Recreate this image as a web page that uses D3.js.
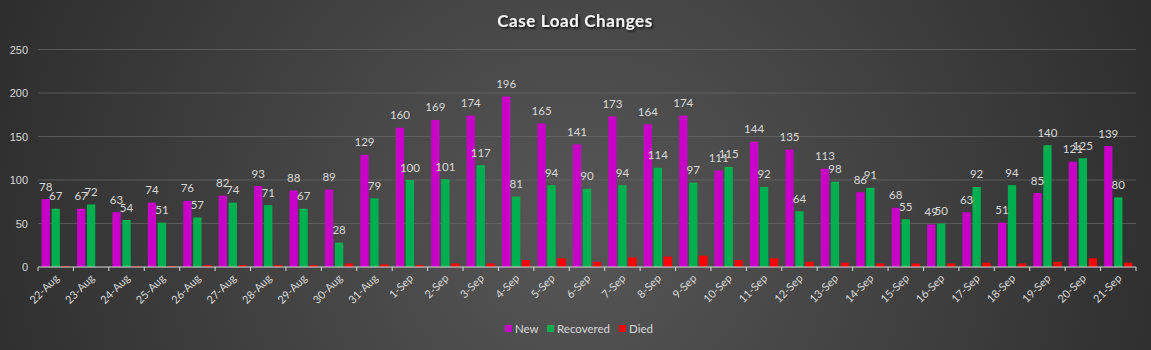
<!DOCTYPE html>
<meta charset="utf-8" />
<title>Case Load Changes</title>
<style>
  body { margin: 0; background: #2a2a2a; }
  svg { display: block; font-family: Lato, "Open Sans", sans-serif; }
  .tick text { fill: #d9d9d9; font-size: 11px; }
  .label { fill: #d9d9d9; font-size: 11.5px; }
</style>
<svg width="1151" height="350"></svg>
<script src="https://d3js.org/d3.v7.min.js"></script>
<script>
const width = 1151, height = 350;

const dates = [
  "22-Aug","23-Aug","24-Aug","25-Aug","26-Aug","27-Aug","28-Aug","29-Aug","30-Aug","31-Aug",
  "1-Sep","2-Sep","3-Sep","4-Sep","5-Sep","6-Sep","7-Sep","8-Sep","9-Sep","10-Sep",
  "11-Sep","12-Sep","13-Sep","14-Sep","15-Sep","16-Sep","17-Sep","18-Sep","19-Sep","20-Sep","21-Sep"
];
const newCases  = [78,67,63,74,76,82,93,88,89,129,160,169,174,196,165,141,173,164,174,111,144,135,113,86,68,49,63,51,85,121,139];
const recovered = [67,72,54,51,57,74,71,67,28,79,100,101,117,81,94,90,94,114,97,115,92,64,98,91,55,50,92,94,140,125,80];
const died      = [1,0,1,1,2,2,2,2,4,3,2,4,4,8,10,6,11,12,13,8,10,6,5,4,4,4,5,4,6,10,5];
const yTicks = [0, 50, 100, 150, 200, 250];

const series = [
  { key: "New", values: newCases, color: "#c800c8", labels: true },
  { key: "Recovered", values: recovered, color: "#00b050", labels: true },
  { key: "Died", values: died, color: "#ff0000", labels: false }
];

const svg = d3.select("svg");

// background
const defs = svg.append("defs");
const grad = defs.append("radialGradient")
  .attr("id", "bg").attr("cx", "50%").attr("cy", "55%").attr("r", "62%")
  .attr("gradientTransform", "translate(0.5,0.5) scale(1,3.2) translate(-0.5,-0.5)");
grad.append("stop").attr("offset", "0%").attr("stop-color", "#575757");
grad.append("stop").attr("offset", "100%").attr("stop-color", "#272727");
svg.append("rect").attr("width", width).attr("height", height).attr("fill", "url(#bg)");

const shadow = defs.append("filter").attr("id", "shadow");
shadow.append("feDropShadow").attr("dx", 1.5).attr("dy", 1.5).attr("stdDeviation", 1)
  .attr("flood-color", "#000").attr("flood-opacity", 0.8);

const x0 = d3.scaleBand().domain(dates).range([38, 1136]).paddingInner(0.2).paddingOuter(0.1);
const x1 = d3.scaleBand().domain(series.map(s => s.key)).range([0, x0.bandwidth()]).paddingInner(0.17);
const y = d3.scaleLinear().domain([0, 250]).range([267, 49.5]);

// gridlines
svg.append("g").selectAll("line")
  .data(yTicks.filter(d => d > 0))
  .enter().append("line")
  .attr("x1", 38).attr("x2", 1136)
  .attr("y1", d => y(d)).attr("y2", d => y(d))
  .attr("stroke", "#6a6a6a").attr("stroke-opacity", 0.7).attr("stroke-width", 1);

// y axis
const yAxis = svg.append("g")
  .attr("transform", "translate(30,0)")
  .call(d3.axisLeft(y).tickValues(yTicks).tickSize(0).tickPadding(2));
yAxis.select(".domain").remove();

// bars
const groups = svg.append("g").selectAll("g")
  .data(dates.map((d, i) => ({ date: d, i })))
  .enter().append("g")
  .attr("transform", d => `translate(${x0(d.date)},0)`);

series.forEach(s => {
  groups.append("rect")
    .attr("x", x1(s.key))
    .attr("width", x1.bandwidth())
    .attr("y", d => y(s.values[d.i]))
    .attr("height", d => y(0) - y(s.values[d.i]))
    .attr("fill", s.color);
});

series.filter(s => s.labels).forEach(s => {
  groups.append("text")
    .attr("class", "label")
    .attr("text-anchor", "middle")
    .attr("x", x1(s.key) + x1.bandwidth() / 2)
    .attr("y", d => y(s.values[d.i]) - 8.5)
    .text(d => s.values[d.i]);
});

// x axis
const xAxisG = svg.append("g").attr("transform", "translate(0,267)");
xAxisG.append("line").attr("x1", 38).attr("x2", 1136)
  .attr("stroke", "#d9d9d9").attr("stroke-width", 1);
const edges = dates.map((d, i) => 38 + i * x0.step()).concat([1136]);
xAxisG.selectAll(".edge").data(edges).enter().append("line")
  .attr("x1", d => d).attr("x2", d => d).attr("y1", 0).attr("y2", 4)
  .attr("stroke", "#d9d9d9");
xAxisG.selectAll(".xl").data(dates).enter().append("text")
  .attr("fill", "#d9d9d9").style("font-size", "11px")
  .attr("text-anchor", "end")
  .attr("transform", d => `translate(${x0(d) + x0.bandwidth() / 2 + 4},${12}) rotate(-45)`)
  .text(d => d);

// title
svg.append("text")
  .attr("x", 575).attr("y", 27)
  .attr("text-anchor", "middle")
  .attr("fill", "#f2f2f2")
  .attr("filter", "url(#shadow)")
  .style("font-size", "17px").style("font-weight", "bold")
  .style("letter-spacing", "0.6px")
  .text("Case Load Changes");

// legend
const legendX = [505, 547, 619];
const legend = svg.append("g").selectAll("g")
  .data(series).enter().append("g")
  .attr("transform", (d, i) => `translate(${legendX[i]},325)`);
legend.append("rect").attr("width", 7).attr("height", 7).attr("fill", d => d.color);
legend.append("text").attr("x", 10).attr("y", 7.5)
  .attr("fill", "#d9d9d9").style("font-size", "11.5px")
  .text(d => d.key);
</script>
